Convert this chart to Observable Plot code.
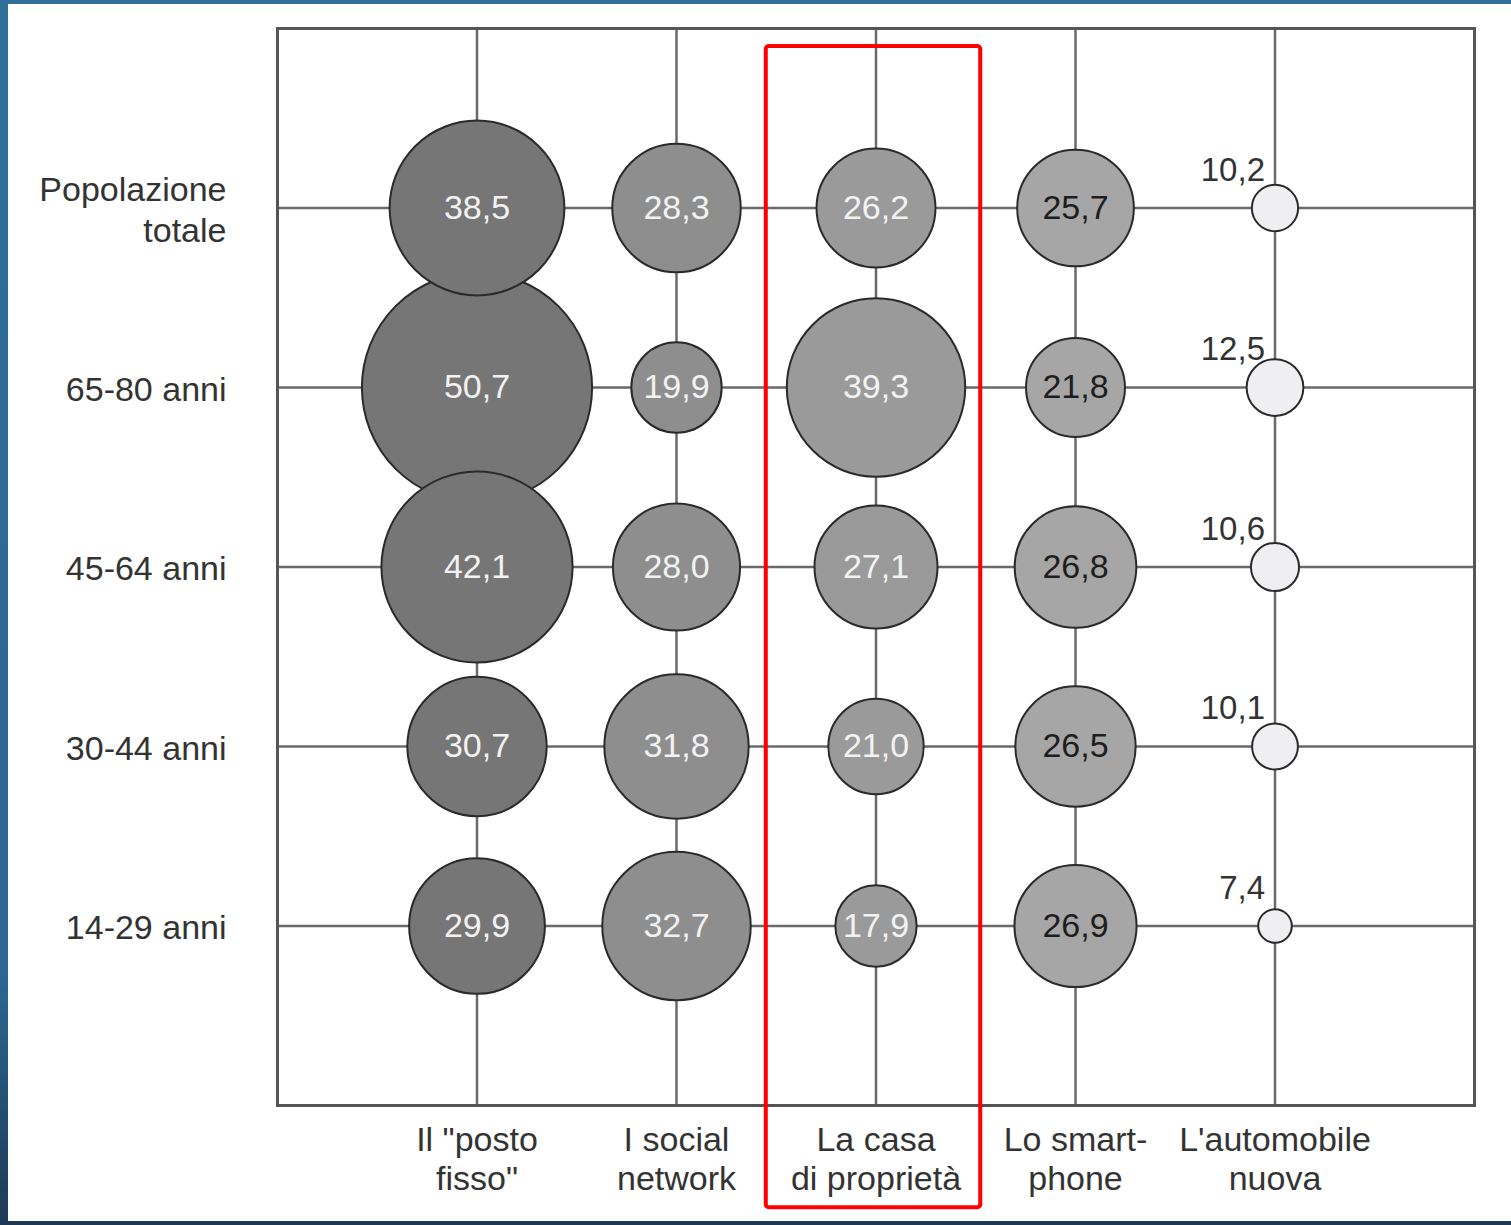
<!DOCTYPE html>
<html>
<head>
<meta charset="utf-8">
<script src="https://cdn.jsdelivr.net/npm/d3@7"></script>
<script src="https://cdn.jsdelivr.net/npm/@observablehq/plot@0.6"></script>
<style>
  html, body { margin: 0; padding: 0; }
  body { width: 1511px; height: 1225px; background: linear-gradient(180deg, #2f6f98 0%, #2b6690 80%, #1d3a55 100%); position: relative; overflow: hidden; }
  #panel { position: absolute; left: 8px; top: 4px; width: 1503px; height: 1217px; background: #ffffff; }
  #panel svg { display: block; }
</style>
</head>
<body>
<div id="panel"></div>
<script>
// Row labels (age groups)
const rows = ["Popolazione\ntotale", "65-80 anni", "45-64 anni", "30-44 anni", "14-29 anni"];
// Column categories
const categories = ['Il "posto\nfisso"', "I social\nnetwork", "La casa\ndi proprietà", "Lo smart-\nphone", "L'automobile\nnuova"];
// Series values per category, in row order
const postoFisso    = [38.5, 50.7, 42.1, 30.7, 29.9];
const socialNetwork = [28.3, 19.9, 28.0, 31.8, 32.7];
const casaProprieta = [26.2, 39.3, 27.1, 21.0, 17.9];
const smartphone    = [25.7, 21.8, 26.8, 26.5, 26.9];
const automobile    = [10.2, 12.5, 10.6, 10.1, 7.4];
// Highlighted category
const highlight = "La casa\ndi proprietà";

const series = [postoFisso, socialNetwork, casaProprieta, smartphone, automobile];
const data = rows.flatMap((row, ri) => categories.map((cat, ci) => ({row, ri, cat, ci, value: series[ci][ri]})));
const fmt = v => v.toFixed(1).replace(".", ",");
const hi = categories.indexOf(highlight);
const font = "'Liberation Sans', Arial, Helvetica, sans-serif";

const plot = Plot.plot({
  width: 1503,
  height: 1217,
  marginLeft: 269,
  marginRight: 37,
  marginTop: 24,
  marginBottom: 116,
  style: {fontFamily: font, background: "#ffffff"},
  x: {type: "linear", domain: [-1, 5], axis: null},
  y: {type: "linear", domain: [-1, 5], reverse: true, axis: null},
  r: {type: "linear", domain: [0, 50], range: [0, 113.5]},
  color: {type: "ordinal", domain: categories, range: ["#767676", "#8e8e8e", "#9a9a9a", "#a6a6a6", "#efeff2"]},
  marks: [
    Plot.ruleX(categories, {x: (d, i) => i, y1: -1, y2: 5, stroke: "#6a6a6a", strokeWidth: 2.5, strokeOpacity: 1}),
    Plot.ruleY(rows, {y: (d, i) => i, x1: -1, x2: 5, stroke: "#6a6a6a", strokeWidth: 2.5, strokeOpacity: 1}),
    Plot.frame({stroke: "#555", strokeWidth: 3}),
    Plot.dot(data, {x: "ci", y: "ri", r: "value", fill: "cat", stroke: "#2a2a2a", strokeWidth: 2, fillOpacity: 1}),
    Plot.text(data.filter(d => d.ci < 3), {x: "ci", y: "ri", text: d => fmt(d.value), fill: "#f2f2f2", fontSize: 34}),
    Plot.text(data.filter(d => d.ci === 3), {x: "ci", y: "ri", text: d => fmt(d.value), fill: "#1e1e1e", fontSize: 34}),
    Plot.text(data.filter(d => d.ci === 4), {x: "ci", y: "ri", text: d => fmt(d.value), fill: "#333", fontSize: 33, textAnchor: "end", dx: -10, dy: -38}),
    Plot.text(rows, {x: -1, y: (d, i) => i, text: d => d, textAnchor: "end", dx: -51, fontSize: 34, lineHeight: 1.21, fill: "#333"}),
    Plot.text(categories, {x: (d, i) => i, y: 5, text: d => d, lineAnchor: "top", dy: 17, fontSize: 34, lineHeight: 1.16, fill: "#333"}),
    Plot.rect([highlight], {x1: hi - 0.55, x2: hi + 0.525, y1: -0.9, y2: 5.57, fill: "none", stroke: "#ff0000", strokeWidth: 4, rx: 3})
  ]
});
document.getElementById("panel").appendChild(plot);
</script>
</body>
</html>
